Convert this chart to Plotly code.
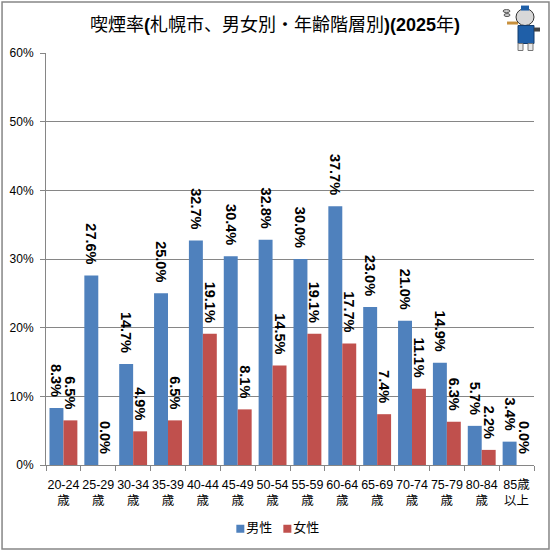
import plotly.graph_objects as go

age_groups = ["20-24<br>歳", "25-29<br>歳", "30-34<br>歳", "35-39<br>歳", "40-44<br>歳",
              "45-49<br>歳", "50-54<br>歳", "55-59<br>歳", "60-64<br>歳", "65-69<br>歳",
              "70-74<br>歳", "75-79<br>歳", "80-84<br>歳", "85歳<br>以上"]
male = [8.3, 27.6, 14.7, 25.0, 32.7, 30.4, 32.8, 30.0, 37.7, 23.0, 21.0, 14.9, 5.7, 3.4]
female = [6.5, 0.0, 4.9, 6.5, 19.1, 8.1, 14.5, 19.1, 17.7, 7.4, 11.1, 6.3, 2.2, 0.0]
y_ticks = [0, 10, 20, 30, 40, 50, 60]
y_labels = ["0%", "10%", "20%", "30%", "40%", "50%", "60%"]

W = 551
H = 551
ML, MR, MT, MB = 45.5, 17, 52.5, 86
GRAY = "#868686"
FONT = "Liberation Sans, Noto Sans CJK JP, sans-serif"


# pixel position on the page -> paper coordinates
def px(x):
    return (x - ML) / (W - ML - MR)


def py(y):
    return (H - MB - y) / (H - MT - MB)


def deco(kind, x0, y0, x1, y1, fill, line=None):
    fig.add_shape(type=kind, xref="paper", yref="paper", x0=px(x0), x1=px(x1), y0=py(y0), y1=py(y1),
                  fillcolor=fill, line=dict(color=line or fill, width=1 if line else 0), layer="above")


fig = go.Figure()

for name, values, color in [("男性", male, "#4F81BD"), ("女性", female, "#C0504D")]:
    fig.add_trace(go.Bar(
        x=age_groups, y=values, name=name, marker_color=color, marker_line_width=0,
        # the nbsp keeps the rotated label a bit off the bar top, like the original
        text=[f"{v:.1f}%\u00a0\u00a0" for v in values], textposition="outside", textangle=90,
        cliponaxis=False, constraintext="none",
        textfont=dict(family=FONT, size=14.5, color="black", weight="bold"),
    ))

fig.update_layout(
    width=W, height=H,
    margin=dict(l=ML, r=MR, t=MT, b=MB, autoexpand=False),
    paper_bgcolor="white", plot_bgcolor="white",
    barmode="group", bargap=0.2, bargroupgap=0,
    font=dict(family=FONT, color="black"),
    title=dict(text="喫煙率<b>(</b>札幌市、男女別・年齢階層別<b>)(2025</b>年<b>)</b>",
               x=275 / W, xanchor="center", y=1 - 25 / H, yanchor="middle",
               font=dict(size=18, color="black")),
    legend=dict(orientation="h", x=px(206), xanchor="left", y=py(527), yanchor="middle",
                font=dict(size=13), itemwidth=30, traceorder="normal"),
)
fig.update_xaxes(
    type="category", tickson="boundaries", ticks="outside", ticklen=5, tickcolor=GRAY,
    showline=True, linecolor=GRAY, linewidth=1, showgrid=False, tickangle=0, automargin=False,
    ticklabelstandoff=8, tickfont=dict(size=12.5, color="black"),
)
fig.update_yaxes(
    range=[0, 60], tickvals=y_ticks, ticktext=y_labels, automargin=False,
    ticks="outside", ticklen=5, tickcolor=GRAY, gridcolor=GRAY, gridwidth=1,
    showline=True, linecolor=GRAY, linewidth=1, zeroline=False,
    ticklabelstandoff=4, tickfont=dict(size=12, color="black"),
)

# chart frame
fig.add_shape(type="rect", xref="paper", yref="paper", x0=px(1.5), x1=px(549), y0=py(1.5), y1=py(549),
              line=dict(color=GRAY, width=1.5), layer="below")

# the little smoking cat top right
deco("circle", 503, 9, 510, 12, "#D0D0D0", "#555555")
deco("circle", 504, 13, 510, 16, "#D0D0D0", "#555555")
deco("rect", 507, 21, 518, 24, "#C8903C")
deco("circle", 516, 8, 534, 25, "#D8D8D8", "#333333")
deco("rect", 521, 5, 529, 10, "#1F5FA8")
deco("rect", 518, 25, 534, 43, "#1F5FA8", "#123A6B")
deco("rect", 534, 27, 540, 31, "#444444")
deco("rect", 518, 43, 523, 50, "#E8E8E8", "#777777")
deco("rect", 528, 43, 533, 50, "#E8E8E8", "#777777")

# tighten the legend: small squares right next to the text, entries closer together
post_script = """
document.body.style.margin = '0';
document.querySelectorAll('.legend .legendpoints').forEach(function (g) {
    g.setAttribute('transform', 'translate(14,2)');
    g.querySelectorAll('path').forEach(function (p) { p.setAttribute('d', 'M4,4H-4V-4H4Z'); });
});
var items = document.querySelectorAll('.legend .traces');
var m = items[1].getAttribute('transform').match(/translate\\(([-\\d.]+),\\s*([-\\d.]+)\\)/);
items[1].setAttribute('transform', 'translate(' + (parseFloat(m[1]) - 24) + ',' + m[2] + ')');
"""
fig.write_html("out.html", post_script=post_script, config=dict(displayModeBar=False))
